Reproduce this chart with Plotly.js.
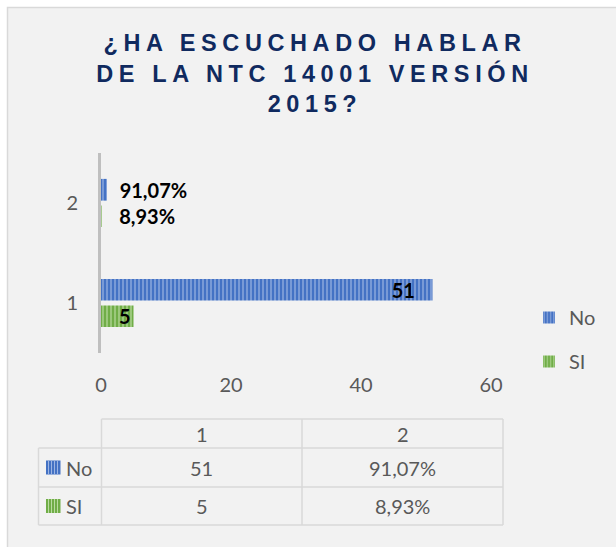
<!DOCTYPE html>
<html>
<head>
<meta charset="utf-8">
<script src="https://cdn.plot.ly/plotly-3.0.1.min.js"></script>
<style>
html,body{margin:0;padding:0;background:#fff;}
#chart{width:616px;height:547px;}
.gtitle{letter-spacing:5.6px;}
</style>
</head>
<body>
<div id="chart"></div>
<script>
// ---- data ----
const categories = ['1', '2'];
const seriesNames = ['No', 'SI'];
const noValues = [51, 0.9107];
const siValues = [5, 0.0893];
const noLabels = ['51', '91,07%'];
const siLabels = ['5', '8,93%'];
const xTickVals = [0, 20, 40, 60];
const titleText = '¿HA ESCUCHADO HABLAR<br>DE LA NTC 14001 VERSIÓN<br>2015?';

// ---- geometry helpers (pixel -> paper) ----
const W = 616, H = 547;
const L = 101, R = 125, T = 153, B = 194;
const PW = W - L - R, PH = H - T - B;
const px = x => (x - L) / PW;
const py = y => (H - B - y) / PH;

const blue = '#4472C4', blueLight = '#9db5e3';
const green = '#70AD47', greenLight = '#b9dba0';
const gray = '#595959';
const FONT = 'Lato, "Open Sans", sans-serif';
const NB = '\u00a0';

const labelFont = {family: FONT, size: 20, color: '#000', weight: 'bold'};

const traceSi = {
  type: 'bar', orientation: 'h', name: seriesNames[1],
  y: categories, x: siValues,
  text: siLabels, textposition: ['inside', 'outside'],
  texttemplate: ['%{text}', NB + NB + NB + '%{text}'],
  insidetextanchor: 'end', constraintext: 'none', textangle: 0,
  textfont: labelFont, insidetextfont: labelFont, outsidetextfont: labelFont,
  marker: {color: green, line: {width: 0},
    pattern: {shape: '|', bgcolor: green, fgcolor: greenLight, size: 4, solidity: 0.3}},
  cliponaxis: false, legendgroup: 'si', legendrank: 2, hoverinfo: 'none'
};
const traceNo = {
  type: 'bar', orientation: 'h', name: seriesNames[0],
  y: categories, x: noValues,
  text: noLabels, textposition: ['inside', 'outside'],
  texttemplate: ['%{text}' + NB + NB + NB, NB + NB + '%{text}'],
  insidetextanchor: 'end', constraintext: 'none', textangle: 0,
  textfont: labelFont, insidetextfont: labelFont, outsidetextfont: labelFont,
  marker: {color: blue, line: {width: 0},
    pattern: {shape: '|', bgcolor: blue, fgcolor: blueLight, size: 4, solidity: 0.3}},
  cliponaxis: false, legendgroup: 'no', legendrank: 1, hoverinfo: 'none'
};

// ---- data table (shapes + annotations) ----
const colEdges = [38.5, 101.5, 302, 503];
const rowEdges = [419, 448, 487, 525];
const lineColor = '#d9d9d9';
const shapes = [];
const annotations = [];

// background frame
shapes.push({type: 'rect', xref: 'paper', yref: 'paper', layer: 'below',
  x0: px(7.5), x1: px(640), y0: py(7.5), y1: py(560),
  fillcolor: '#f2f2f2', line: {color: lineColor, width: 1.5}});

// horizontal table lines
shapes.push({type: 'line', xref: 'paper', yref: 'paper', x0: px(colEdges[1]), x1: px(colEdges[3]),
  y0: py(rowEdges[0]), y1: py(rowEdges[0]), line: {color: lineColor, width: 1.5}});
for (let i = 1; i < rowEdges.length; i++) {
  shapes.push({type: 'line', xref: 'paper', yref: 'paper', x0: px(colEdges[0]), x1: px(colEdges[3]),
    y0: py(rowEdges[i]), y1: py(rowEdges[i]), line: {color: lineColor, width: 1.5}});
}
// vertical table lines
shapes.push({type: 'line', xref: 'paper', yref: 'paper', x0: px(colEdges[0]), x1: px(colEdges[0]),
  y0: py(rowEdges[1]), y1: py(rowEdges[3]), line: {color: lineColor, width: 1.5}});
for (let j = 1; j < colEdges.length; j++) {
  shapes.push({type: 'line', xref: 'paper', yref: 'paper', x0: px(colEdges[j]), x1: px(colEdges[j]),
    y0: py(rowEdges[0]), y1: py(rowEdges[3]), line: {color: lineColor, width: 1.5}});
}
const tfont = {family: FONT, size: 20, color: gray};
// header
categories.forEach((c, j) => {
  annotations.push({xref: 'paper', yref: 'paper', x: px((colEdges[j + 1] + colEdges[j + 2]) / 2),
    y: py((rowEdges[0] + rowEdges[1]) / 2), text: c, showarrow: false, font: tfont,
    xanchor: 'center', yanchor: 'middle'});
});
const rowsData = [
  {name: seriesNames[0], labels: noLabels, c: blue, cl: blueLight},
  {name: seriesNames[1], labels: siLabels, c: green, cl: greenLight}
];
rowsData.forEach((r, i) => {
  const yc = (rowEdges[i + 1] + rowEdges[i + 2]) / 2;
  annotations.push({xref: 'paper', yref: 'paper', x: px(64), y: py(yc), text: r.name,
    showarrow: false, font: tfont, xanchor: 'left', yanchor: 'middle'});
  // key symbol
  shapes.push({type: 'rect', xref: 'paper', yref: 'paper', x0: px(46), x1: px(60.5),
    y0: py(yc - 7), y1: py(yc + 7), fillcolor: r.c, line: {width: 0}});
  [48.5, 51.5, 54.5, 57.5].forEach(xx => shapes.push({type: 'line', xref: 'paper', yref: 'paper',
    x0: px(xx), x1: px(xx), y0: py(yc - 7), y1: py(yc + 7), line: {color: r.cl, width: 1}}));
  r.labels.forEach((t, j) => {
    annotations.push({xref: 'paper', yref: 'paper', x: px((colEdges[j + 1] + colEdges[j + 2]) / 2),
      y: py(yc), text: t, showarrow: false, font: tfont, xanchor: 'center', yanchor: 'middle'});
  });
});

const layout = {
  width: W, height: H,
  margin: {l: L, r: R, t: T, b: B, pad: 0},
  paper_bgcolor: '#ffffff', plot_bgcolor: 'rgba(0,0,0,0)',
  title: {text: titleText, font: {family: '"Liberation Sans", Arial, sans-serif', size: 23.5, color: '#102a5f', weight: 'bold'},
    x: 315 / W, xref: 'container', xanchor: 'center', y: 1 - 51 / H, yref: 'container', yanchor: 'top'},
  barmode: 'group', bargap: 0.47, bargroupgap: 0.18,
  xaxis: {range: [0, 60], tickvals: xTickVals, showgrid: false, zeroline: false, showline: false,
    ticks: '', tickfont: {family: FONT, size: 20, color: gray}, ticklabelstandoff: 18, fixedrange: true},
  yaxis: {type: 'category', categoryorder: 'array', categoryarray: categories, range: [-0.5, 1.5],
    showgrid: false, zeroline: false, showline: true, linecolor: '#bfbfbf', linewidth: 3,
    ticks: '', tickfont: {family: FONT, size: 20, color: gray}, ticklabelstandoff: 16, fixedrange: true},
  showlegend: true,
  legend: {x: px(529), xanchor: 'left', y: py(298), yanchor: 'top', traceorder: 'grouped',
    tracegroupgap: 15, font: {family: FONT, size: 20, color: gray}, bgcolor: 'rgba(0,0,0,0)'},
  shapes: shapes, annotations: annotations
};

Plotly.newPlot('chart', [traceSi, traceNo], layout, {staticPlot: true, displayModeBar: false});
</script>
</body>
</html>
